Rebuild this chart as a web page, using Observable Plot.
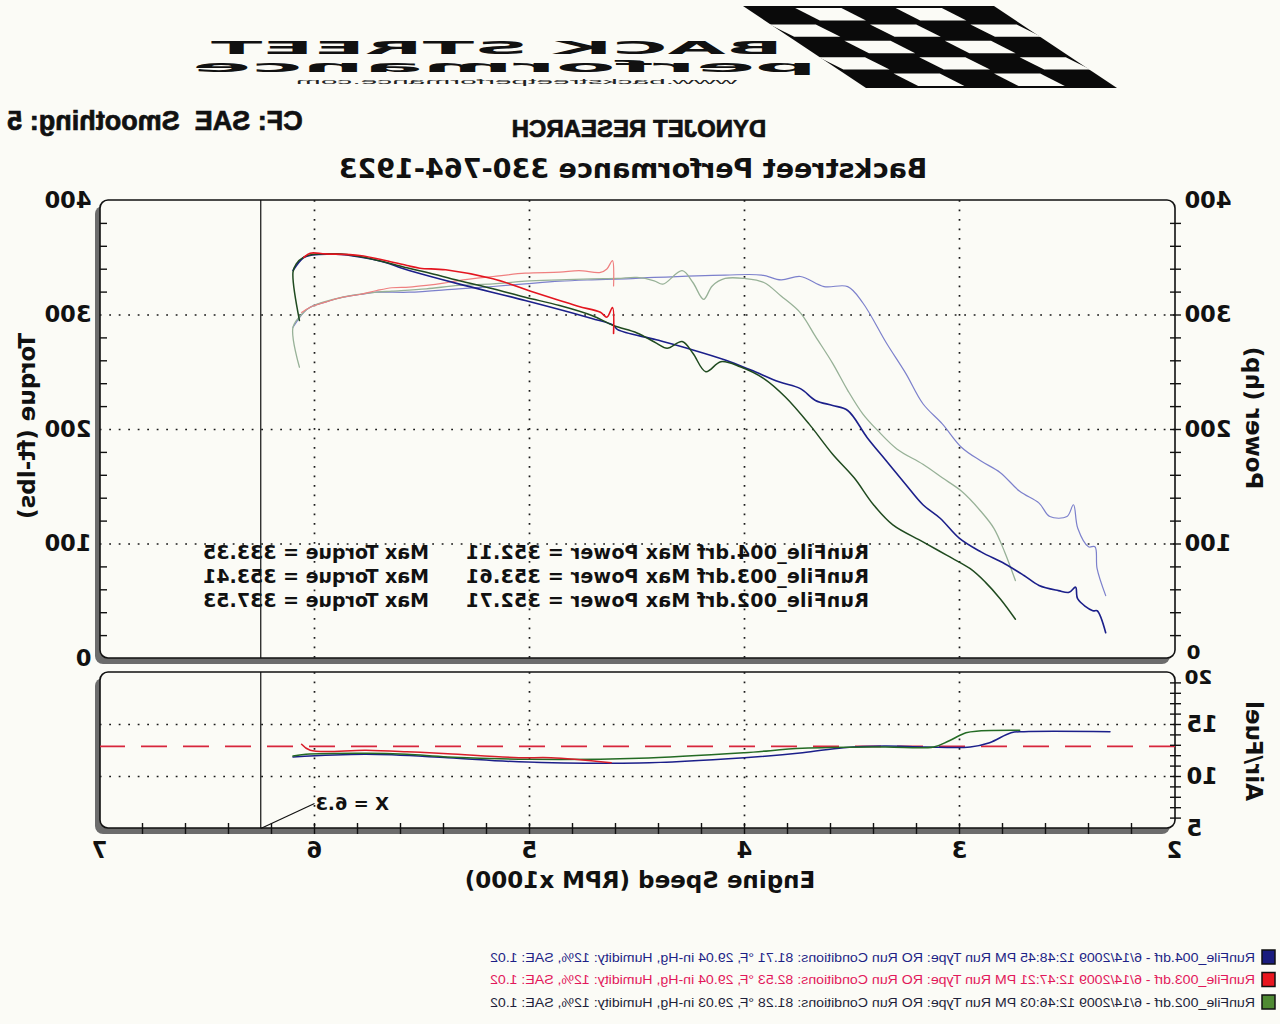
<!DOCTYPE html>
<html><head><meta charset="utf-8">
<script src="https://cdn.jsdelivr.net/npm/d3@7"></script>
<script src="https://cdn.jsdelivr.net/npm/@observablehq/plot@0.6"></script>
<style>
html,body{margin:0;padding:0;background:#fbfbf6;width:1280px;height:1024px;overflow:hidden;}
#page{position:relative;width:1280px;height:1024px;overflow:hidden;transform:scaleX(-1);transform-origin:640px 512px;background:#fbfbf6;color:#111;}
.t{position:absolute;white-space:pre;line-height:1;}
#page svg{position:absolute;left:0;overflow:visible;}
</style></head>
<body><div id="page"></div>
<script>
// ---------------- DATA ----------------
const rpmTicks = [2, 3, 4, 5, 6, 7];                 // Engine speed (RPM x1000)
const powerTicks = [0, 100, 200, 300, 400];          // hp / ft-lbs
const afrTicks = [5, 10, 15, 20];
const afrTarget = 12.9;
const cursorRpm = 6.25;
const cursorLabel = "X = 6.3";

// [rpm x1000, hp]
const power004 = [[6.10,338.9],[6.05,350.2],[6.01,352.4],[5.90,353.0],[5.79,350.7],[5.67,345.9],[5.60,341.2],[5.56,338.9],[5.33,327.2],[5.02,312.7],[4.71,297.0],[4.61,291.0],[4.59,287.2],[4.41,278.3],[4.24,269.5],[4.09,260.7],[3.97,251.9],[3.84,241.7],[3.74,235.7],[3.67,225.4],[3.59,221.0],[3.52,216.6],[3.43,193.1],[3.34,172.5],[3.25,152.0],[3.17,134.3],[3.09,122.5],[3.00,104.9],[2.90,93.1],[2.79,82.8],[2.70,72.5],[2.63,63.8],[2.54,59.3],[2.49,57.8],[2.46,62.3],[2.45,52.0],[2.38,41.7],[2.36,41.7],[2.32,22.5]];
const power003 = [[6.05,350.2],[6.02,354.0],[5.95,353.4],[5.79,352.0],[5.67,347.6],[5.57,343.2],[5.51,340.9],[5.39,339.5],[5.17,331.6],[4.98,319.9],[4.86,312.7],[4.77,307.4],[4.67,302.4],[4.64,298.1],[4.614,306.6],[4.609,283.8]];
const power002 = [[6.07,295.2],[6.10,337.4],[6.085,344.7],[6.05,350.5],[6.01,352.8],[5.90,353.4],[5.79,351.1],[5.67,346.1],[5.57,341.2],[5.48,337.4],[5.33,330.1],[5.17,322.9],[5.02,315.5],[4.86,308.3],[4.71,299.6],[4.61,290.8],[4.50,284.3],[4.41,275.5],[4.36,271.0],[4.29,276.9],[4.24,266.6],[4.18,250.5],[4.11,259.2],[4.02,254.8],[3.91,244.5],[3.81,228.4],[3.70,204.9],[3.59,178.4],[3.49,157.8],[3.40,134.3],[3.31,116.7],[3.17,101.9],[3.06,90.2],[2.95,78.4],[2.88,66.7],[2.81,52.0],[2.74,34.3]];

// [rpm x1000, ft-lbs]
const torque004 = [[6.10,289.3],[6.05,302.4],[6.02,306.8],[5.95,311.2],[5.87,315.5],[5.79,317.9],[5.71,319.9],[5.56,319.9],[5.33,322.9],[5.17,324.9],[5.02,327.2],[4.86,329.5],[4.71,330.7],[4.55,331.6],[4.42,332.8],[4.09,334.9],[3.92,334.9],[3.83,330.7],[3.74,333.6],[3.63,324.8],[3.52,324.8],[3.45,310.7],[3.34,275.5],[3.25,249.0],[3.17,222.5],[3.08,204.9],[2.99,184.3],[2.90,172.5],[2.81,162.3],[2.72,146.0],[2.63,135.7],[2.58,124.0],[2.50,124.0],[2.47,134.3],[2.45,113.7],[2.40,97.6],[2.37,97.6],[2.36,78.4],[2.32,54.9]];
const torque003 = [[6.06,302.2],[6.02,306.8],[5.95,311.2],[5.87,315.5],[5.79,317.9],[5.71,321.4],[5.64,323.8],[5.56,324.3],[5.48,325.8],[5.40,327.8],[5.33,330.1],[5.17,333.6],[5.02,336.5],[4.86,337.4],[4.77,338.7],[4.67,337.2],[4.64,340.2],[4.614,347.5],[4.609,325.4]];
const torque002 = [[6.07,254.4],[6.10,289.3],[6.05,302.4],[6.02,306.8],[5.87,315.5],[5.71,319.9],[5.64,320.8],[5.48,322.9],[5.33,325.8],[5.17,327.2],[5.02,329.5],[4.86,330.7],[4.71,331.6],[4.59,331.9],[4.50,332.8],[4.42,329.9],[4.38,326.9],[4.29,338.7],[4.24,328.4],[4.19,313.7],[4.15,325.4],[4.09,331.9],[4.00,331.9],[3.91,328.4],[3.83,316.6],[3.74,301.9],[3.67,281.3],[3.59,257.8],[3.52,234.2],[3.45,213.7],[3.38,199.0],[3.29,182.8],[3.17,169.6],[3.08,157.8],[2.99,146.0],[2.90,128.4],[2.84,113.7],[2.79,93.1],[2.74,68.1]];

// [rpm x1000, air/fuel]
const afr004 = [[6.10,11.88],[5.76,12.13],[5.38,11.81],[5.05,11.42],[4.49,11.30],[4.00,11.81],[3.73,12.29],[3.54,12.77],[3.35,12.93],[3.16,12.84],[2.95,12.84],[2.86,13.25],[2.76,14.21],[2.70,14.31],[2.30,14.31]];
const afr003 = [[6.06,13.10],[6.02,12.52],[5.76,12.52],[5.57,12.38],[5.38,12.19],[5.05,11.81],[4.90,11.81],[4.62,11.33]];
const afr002 = [[6.10,11.97],[6.04,12.13],[5.76,12.23],[5.57,12.13],[5.38,11.88],[5.00,11.65],[4.49,11.75],[4.00,12.29],[3.73,12.71],[3.35,12.84],[3.12,12.84],[3.05,13.41],[2.97,14.21],[2.91,14.38],[2.72,14.44]];

const maxLines = [
  ["RunFile_004.drf Max Power = 352.11", "Max Torque = 333.35"],
  ["RunFile_003.drf Max Power = 353.61", "Max Torque = 353.41"],
  ["RunFile_002.drf Max Power = 352.71", "Max Torque = 337.53"]
];
const legendTexts = [
  "RunFile_004.drf - 6/14/2009 12:48:45 PM  Run Type: RO  Run Conditions: 81.71 °F, 29.04 in-Hg,  Humidity:  12%,  SAE: 1.02",
  "RunFile_003.drf - 6/14/2009 12:47:21 PM  Run Type: RO  Run Conditions: 82.53 °F, 29.04 in-Hg,  Humidity:  12%,  SAE: 1.02",
  "RunFile_002.drf - 6/14/2009 12:46:03 PM  Run Type: RO  Run Conditions: 81.28 °F, 29.03 in-Hg,  Humidity:  12%,  SAE: 1.02"
];
const legendTextColors = ["#1d1f86", "#e2185a", "#1e1f3a"];
const legendSwatches = ["#1a1c7e", "#e8161e", "#4f8a32"];

// ---------------- STYLE ----------------
const bg = "#fbfbf6";
const bold = "DejaVu Sans";
const C = {p004:"#1b1f8a", t004:"#7c80cc", p003:"#e3151f", t003:"#ef8080", p002:"#1f4a1f", t002:"#97b197",
           a004:"#1b1f8a", a003:"#d81e2a", a002:"#246b24"};
const page = document.getElementById("page");

function text(str, x, y, css, center = true, rot = 0) {
  const d = document.createElement("div");
  d.className = "t";
  d.textContent = str;
  d.style.left = x + "px"; d.style.top = y + "px";
  Object.assign(d.style, css);
  d.style.transform = (center ? "translate(-50%,-50%)" : "translate(0,-50%)") + (rot ? ` rotate(${rot}deg)` : "");
  page.appendChild(d);
  return d;
}

// ---------------- LOGO ----------------
{
  const svg = d3.create("svg").attr("width", 1280).attr("height", 100).style("top", "0px");
  const x0 = 286, y0 = 6, w = 251, h = 82, shift = -123, R = 5, Cn = 5;
  const cw = w / Cn, rh = h / R, sk = shift / R;
  svg.append("path").attr("d", `M${x0},${y0}L${x0 + w},${y0}L${x0 + w + shift},${y0 + h}L${x0 + shift},${y0 + h}Z`).attr("fill", "#0a0a0a");
  for (let r = 0; r < R; r++) for (let c = 0; c < Cn; c++) {
    if ((r + c) % 2 !== 1) continue;
    const x = x0 + c * cw + r * sk, y = y0 + r * rh;
    const i = 2;
    svg.append("path").attr("d", `M${x + i},${y + i}L${x + cw - i},${y + i}L${x + cw + sk - i},${y + rh - i}L${x + sk + i},${y + rh - i}Z`).attr("fill", bg);
  }
  svg.append("text").attr("x", 497).attr("y", 54).attr("textLength", 572).attr("lengthAdjust", "spacingAndGlyphs")
    .attr("font-family", bold).attr("font-weight", "bold").attr("font-size", 17).attr("fill", "#111").text("BACK STREET");
  svg.append("text").attr("x", 463).attr("y", 72).attr("textLength", 625).attr("lengthAdjust", "spacingAndGlyphs")
    .attr("font-family", bold).attr("font-weight", "bold").attr("font-size", 15).attr("fill", "#111").text("performance");
  svg.append("text").attr("x", 543).attr("y", 84).attr("textLength", 441).attr("lengthAdjust", "spacingAndGlyphs")
    .attr("font-family", "Liberation Sans").attr("font-size", 6.5).attr("fill", "#222").text("www.backstreetperformance.com");
  page.appendChild(svg.node());
}

// ---------------- HEADER ----------------
const heavy = {fontFamily: "Liberation Sans", fontWeight: "bold", webkitTextStroke: "0.7px #111"};
text("CF: SAE  Smoothing: 5", 1125, 121, {...heavy, fontSize: "27px"});
text("DYNOJET RESEARCH", 641, 129, {...heavy, fontSize: "24px"});
text("Backstreet Performance 330-764-1923", 647, 168, {fontFamily: bold, fontWeight: "bold", fontSize: "27px"});

// ---------------- PANELS ----------------
const xDomain = [rpmTicks[0], rpmTicks[rpmTicks.length - 1]];
const powerDomain = [powerTicks[0], powerTicks[powerTicks.length - 1]];
const afrDomain = [afrTicks[0], afrTicks[afrTicks.length - 1]];
const panelTop = [{x1: xDomain[0], x2: xDomain[1], y1: powerDomain[0], y2: powerDomain[1]}];
const panelBottom = [{x1: xDomain[0], x2: xDomain[1], y1: afrDomain[0], y2: afrDomain[1]}];
const gridRpm = rpmTicks.slice(1, -1);
const dotted = {stroke: "#1a1a1a", strokeWidth: 1.7, strokeDasharray: "1.8,7.7"};
const pxX = (xDomain[1] - xDomain[0]) / 1075;   // rpm per pixel
const pxA = (afrDomain[1] - afrDomain[0]) / 156;
const minorP = d3.range(1, 20).map(i => i * 20);
const minorPinner = minorP.filter(v => v % 100 !== 0);
const minorRpm = d3.range(11, 35).map(i => i / 5);
const minorAfr = d3.range(6, 20);
const axisFont = {fontSize: 22.5, fontWeight: "bold", fontFamily: bold, fill: "#111"};
const cornerFont = {fontSize: 20, fontWeight: "bold", fontFamily: bold, fill: "#111"};
const line = (data, color, w) => Plot.line(data, {x: d => d[0], y: d => d[1], stroke: color, strokeWidth: w, strokeLinejoin: "round", curve: "catmull-rom"});
const panelMarks = (panel) => [
  Plot.rect(panel, {x1: "x1", x2: "x2", y1: "y1", y2: "y2", fill: "#6c6c6c", rx: 8, dx: 5, dy: 6}),
  Plot.rect(panel, {x1: "x1", x2: "x2", y1: "y1", y2: "y2", fill: bg, stroke: "#111", strokeWidth: 1.6, rx: 8})
];

const topPlot = Plot.plot({
  width: 1280, height: 490, marginTop: 20, marginBottom: 12, marginLeft: 105, marginRight: 100,
  style: {background: "transparent", overflow: "visible"},
  x: {domain: xDomain, axis: null},
  y: {domain: powerDomain, axis: null},
  marks: [
    ...panelMarks(panelTop),
    Plot.ruleY(powerTicks.slice(1, -1), dotted),
    Plot.ruleX(gridRpm, dotted),
    Plot.ruleY(minorP, {x1: xDomain[0] - 6 * pxX, x2: xDomain[0] + 5 * pxX, stroke: "#111", strokeWidth: 1.4}),
    Plot.ruleY(minorPinner, {x1: xDomain[1], x2: xDomain[1] - 7 * pxX, stroke: "#111", strokeWidth: 1.4}),
    Plot.ruleX([cursorRpm], {stroke: "#111", strokeWidth: 1.2}),
    line(torque004, C.t004, 1.2),
    line(torque002, C.t002, 1.3),
    line(torque003, C.t003, 1.2),
    line(power004, C.p004, 1.6),
    line(power002, C.p002, 1.5),
    line(power003, C.p003, 1.6),
    Plot.axisY({anchor: "left", ticks: powerTicks.slice(1), tickSize: 0, tickPadding: 10, ...axisFont}),
    Plot.axisY({anchor: "left", ticks: powerTicks.slice(0, 1), tickSize: 0, tickPadding: 12, dy: -6, ...cornerFont}),
    Plot.axisY({anchor: "right", ticks: powerTicks, tickSize: 0, tickPadding: 8, ...axisFont})
  ]
});
topPlot.style.top = "180px";
page.appendChild(topPlot);

const bottomPlot = Plot.plot({
  width: 1280, height: 216, marginTop: 20, marginBottom: 40, marginLeft: 105, marginRight: 100,
  style: {background: "transparent", overflow: "visible"},
  x: {domain: xDomain, axis: null},
  y: {domain: afrDomain, axis: null},
  marks: [
    ...panelMarks(panelBottom),
    Plot.ruleY(afrTicks.slice(1, -1), dotted),
    Plot.ruleX(gridRpm, dotted),
    Plot.ruleY([afrTarget], {stroke: "#d8263c", strokeWidth: 1.6, strokeDasharray: "26,16"}),
    Plot.ruleY(minorAfr, {x1: xDomain[0] - 6 * pxX, x2: xDomain[0] + 5 * pxX, stroke: "#111", strokeWidth: 1.4}),
    Plot.ruleX(minorRpm, {y1: afrDomain[0] - 6 * pxA, y2: afrDomain[0] + 5 * pxA, stroke: "#111", strokeWidth: 1.4}),
    Plot.ruleX([cursorRpm], {stroke: "#111", strokeWidth: 1.2}),
    Plot.link([0], {x1: cursorRpm, y1: afrDomain[0], x2: 6.0, y2: 7.4, stroke: "#111", strokeWidth: 1.2}),
    Plot.text([cursorLabel], {x: 6.0, y: 7.35, text: d => d, textAnchor: "end", dx: -1, fontSize: 18, fontWeight: "bold", fontFamily: bold, fill: "#111"}),
    line(afr004, C.a004, 1.5),
    line(afr002, C.a002, 1.5),
    line(afr003, C.a003, 1.5),
    Plot.axisY({anchor: "left", ticks: afrTicks.slice(0, -1), tickSize: 0, tickPadding: 12, ...axisFont}),
    Plot.axisY({anchor: "left", ticks: afrTicks.slice(-1), tickSize: 0, tickPadding: 10, dy: 5, ...cornerFont}),
    Plot.axisX({anchor: "bottom", ticks: rpmTicks, tickSize: 0, tickPadding: 14, tickFormat: d => String(d), ...axisFont})
  ]
});
bottomPlot.style.top = "652px";
page.appendChild(bottomPlot);

// ---------------- AXIS TITLES ----------------
const titleFont = {fontFamily: bold, fontWeight: "bold", fontSize: "23px"};
text("Power (hp)", 27, 418, titleFont, true, -90);
text("Torque (ft-lbs)", 1253, 426, titleFont, true, 90);
text("Air/Fuel", 27, 751, titleFont, true, -90);
text("Engine Speed (RPM x1000)", 640, 880, titleFont, true);

// ---------------- MAX SUMMARY ----------------
maxLines.forEach((pair, i) => {
  const y = 552 + i * 24;
  text(pair[0], 411, y, {fontFamily: bold, fontWeight: "bold", fontSize: "19px", letterSpacing: "0.25px"}, false);
  text(pair[1], 851, y, {fontFamily: bold, fontWeight: "bold", fontSize: "19px"}, false);
});

// ---------------- RUN LEGEND ----------------
{
  const svg = d3.create("svg").attr("width", 1280).attr("height", 80).style("top", "940px");
  legendTexts.forEach((s, i) => {
    const cy = 17 + i * 22.5;
    svg.append("rect").attr("x", 5).attr("y", cy - 7).attr("width", 13).attr("height", 14)
      .attr("fill", legendSwatches[i]).attr("stroke", "#111").attr("stroke-width", 1.5);
    svg.append("text").attr("x", 25).attr("y", cy + 4.5).attr("textLength", 765).attr("lengthAdjust", "spacingAndGlyphs")
      .attr("font-family", "Liberation Sans").attr("font-size", 13.5).attr("fill", legendTextColors[i]).text(s);
  });
  page.appendChild(svg.node());
}
</script>
</body></html>
